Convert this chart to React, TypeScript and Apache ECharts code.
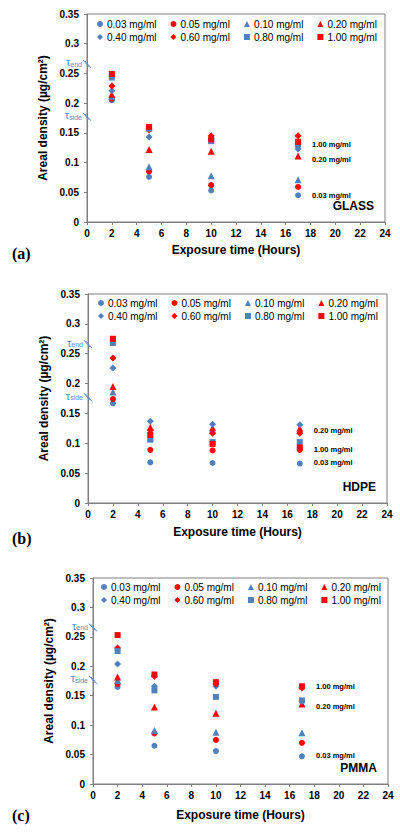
import React, { useEffect, useRef } from 'react';
import * as echarts from 'echarts';

const times = [2, 5, 10, 17];
const concentrations = ['0.03 mg/ml', '0.05 mg/ml', '0.10 mg/ml', '0.20 mg/ml', '0.40 mg/ml', '0.60 mg/ml', '0.80 mg/ml', '1.00 mg/ml'];

// rows follow concentrations, columns follow times
const glassValues = [
  [0.205, 0.076, 0.053, 0.045],
  [0.207, 0.085, 0.062, 0.059],
  [0.211, 0.093, 0.078, 0.071],
  [0.215, 0.122, 0.119, 0.111],
  [0.221, 0.143, 0.140, 0.123],
  [0.229, 0.155, 0.145, 0.145],
  [0.243, 0.157, 0.136, 0.130],
  [0.249, 0.160, 0.139, 0.135],
];
const hdpeValues = [
  [0.167, 0.068, 0.067, 0.066],
  [0.174, 0.089, 0.088, 0.089],
  [0.186, 0.110, 0.122, 0.121],
  [0.195, 0.127, 0.126, 0.125],
  [0.226, 0.137, 0.132, 0.131],
  [0.243, 0.122, 0.117, 0.117],
  [0.268, 0.106, 0.102, 0.102],
  [0.275, 0.114, 0.099, 0.093],
];
const pmmaValues = [
  [0.165, 0.065, 0.056, 0.047],
  [0.170, 0.086, 0.075, 0.070],
  [0.176, 0.091, 0.088, 0.087],
  [0.182, 0.131, 0.120, 0.136],
  [0.204, 0.166, 0.166, 0.140],
  [0.231, 0.183, 0.170, 0.163],
  [0.226, 0.159, 0.148, 0.142],
  [0.253, 0.186, 0.173, 0.166],
];

const materials = ['GLASS', 'HDPE', 'PMMA'];
const panelLetters = ['(a)', '(b)', '(c)'];
const tauLevels = [0.266, 0.177];
const tauLabels = ['end', 'side'];

const glassNotes = ['1.00 mg/ml', '0.20 mg/ml', '0.03 mg/ml'];
const glassNoteLevels = [0.130, 0.106, 0.044];
const hdpeNotes = ['0.20 mg/ml', '1.00 mg/ml', '0.03 mg/ml'];
const hdpeNoteLevels = [0.122, 0.090, 0.068];
const pmmaNotes = ['1.00 mg/ml', '0.20 mg/ml', '0.03 mg/ml'];
const pmmaNoteLevels = [0.165, 0.131, 0.048];
const noteTime = 17;

const BLUE = '#4f81bd';
const RED = '#ff0000';
const symbols = ['circle', 'circle', 'triangle', 'triangle', 'diamond', 'diamond', 'rect', 'rect'];
const symbolSizes = [6, 6, 7, 7, 7, 7, 6, 6];
const colors = [BLUE, RED, BLUE, RED, BLUE, RED, BLUE, RED];

const grids = [
  { left: 87, top: 14, width: 298, height: 208 },
  { left: 88, top: 294, width: 299, height: 209 },
  { left: 93, top: 578, width: 295, height: 206 },
];
const legendRows = [
  [18, 31],
  [297, 310],
  [581, 594],
];
const legendLeft = [97, 98, 101];
const xNameGaps = [22, 23, 25];
const letterTops = [255, 540, 817];

export default function App() {
  const ref = useRef<HTMLDivElement>(null);

  useEffect(() => {
    if (!ref.current) return;
    const chart = echarts.init(ref.current, undefined, { renderer: 'svg' });
    const panels = [glassValues, hdpeValues, pmmaValues];
    const notes = [glassNotes, hdpeNotes, pmmaNotes];
    const noteLevels = [glassNoteLevels, hdpeNoteLevels, pmmaNoteLevels];
    const font = 'Arial, "Liberation Sans", sans-serif';
    const tauColor = '#5b8ccc';

    const series: any[] = [];
    panels.forEach((vals, p) => {
      vals.forEach((row, c) => {
        series.push({
          type: 'scatter',
          name: concentrations[c],
          xAxisIndex: p,
          yAxisIndex: p,
          symbol: symbols[c],
          symbolSize: symbolSizes[c],
          itemStyle: { color: colors[c], opacity: 1 },
          data: times.map((t, i) => [t, row[i]]),
          z: 3 + c,
        });
      });
      series.push({
        type: 'custom',
        xAxisIndex: p,
        yAxisIndex: p,
        silent: true,
        data: tauLevels.map((v) => [0, v]),
        renderItem: (params: any, api: any) => {
          const pt = api.coord([api.value(0), api.value(1)]);
          const lab = tauLabels[params.dataIndex];
          return {
            type: 'group',
            children: [
              {
                type: 'text',
                x: pt[0] - 5,
                y: pt[1] - 2,
                style: {
                  text: `{t|τ}{s|${lab}}`,
                  align: 'right',
                  verticalAlign: 'middle',
                  rich: {
                    t: { fontSize: 11, fill: tauColor, fontFamily: font, verticalAlign: 'bottom', lineHeight: 12 },
                    s: { fontSize: 7, fill: tauColor, fontFamily: font, verticalAlign: 'bottom', lineHeight: 9 },
                  },
                },
              },
              {
                type: 'line',
                shape: { x1: pt[0] - 4, y1: pt[1] - 4, x2: pt[0] + 2, y2: pt[1] + 3 },
                style: { stroke: tauColor, lineWidth: 1 },
              },
              {
                type: 'line',
                shape: { x1: pt[0] - 2, y1: pt[1] - 3, x2: pt[0] + 4, y2: pt[1] + 4 },
                style: { stroke: tauColor, lineWidth: 1 },
              },
            ],
          };
        },
        z: 10,
      });
      series.push({
        type: 'custom',
        xAxisIndex: p,
        yAxisIndex: p,
        silent: true,
        data: noteLevels[p].map((v) => [noteTime, v]),
        renderItem: (params: any, api: any) => {
          const pt = api.coord([api.value(0), api.value(1)]);
          return {
            type: 'text',
            x: pt[0] + 14,
            y: pt[1],
            style: {
              text: notes[p][params.dataIndex],
              fontSize: 7.5,
              fontWeight: 'bold',
              fontFamily: font,
              fill: '#000',
              align: 'left',
              verticalAlign: 'middle',
            },
          };
        },
        z: 10,
      });
    });

    const legends: any[] = [];
    grids.forEach((g, p) => {
      [0, 1].forEach((r) => {
        legends.push({
          data: concentrations.slice(r * 4, r * 4 + 4),
          left: legendLeft[p],
          top: legendRows[p][r],
          orient: 'horizontal',
          itemWidth: 6,
          itemHeight: 6,
          itemGap: 14,
          padding: 0,
          selectedMode: false,
          textStyle: { fontSize: 10, fontFamily: font, color: '#000', lineHeight: 12, padding: [0, 0, 0, -1] },
        });
      });
    });

    const graphics: any[] = [];
    grids.forEach((g, p) => {
      graphics.push({
        type: 'text',
        right: 400 - (g.left + g.width - 11),
        top: g.top + g.height - 22,
        style: { text: materials[p], fontSize: 12, fontWeight: 'bold', fontFamily: font, fill: '#000' },
      });
      graphics.push({
        type: 'text',
        left: 12,
        top: letterTops[p] - 10,
        style: { text: panelLetters[p], fontSize: 16, fontWeight: 'bold', fontFamily: '"Liberation Serif", "Times New Roman", serif', fill: '#000' },
      });
    });

    chart.setOption({
      animation: false,
      backgroundColor: '#fff',
      grid: grids.map((g) => ({ ...g, show: true, borderColor: '#7f7f7f', borderWidth: 1, backgroundColor: 'transparent' })),
      xAxis: grids.map((g, p) => ({
        type: 'value',
        gridIndex: p,
        min: 0,
        max: 24,
        interval: 2,
        name: 'Exposure time (Hours)',
        nameLocation: 'middle',
        nameGap: xNameGaps[p],
        nameTextStyle: { fontSize: 12, fontWeight: 'bold', fontFamily: font, color: '#000' },
        axisLine: { show: true, lineStyle: { color: '#7f7f7f', width: 1 } },
        axisTick: { show: true, length: 3, lineStyle: { color: '#7f7f7f' } },
        axisLabel: { fontSize: 10, fontWeight: 'bold', fontFamily: font, color: '#000', margin: 6 },
        splitLine: { show: false },
      })),
      yAxis: grids.map((g, p) => ({
        type: 'value',
        gridIndex: p,
        min: 0,
        max: 0.35,
        interval: 0.05,
        name: 'Areal density (µg/cm²)',
        nameLocation: 'middle',
        nameGap: 33,
        nameTextStyle: { fontSize: 12, fontWeight: 'bold', fontFamily: font, color: '#000' },
        axisLine: { show: true, lineStyle: { color: '#7f7f7f', width: 1 } },
        axisTick: { show: true, length: 3, lineStyle: { color: '#7f7f7f' } },
        axisLabel: { fontSize: 10, fontWeight: 'bold', fontFamily: font, color: '#000', margin: 8 },
        splitLine: { show: false },
      })),
      legend: legends,
      series,
      graphic: graphics,
    });

    return () => chart.dispose();
  }, []);

  return <div ref={ref} style={{ position: 'absolute', left: 0, top: 0, width: 400, height: 837 }} />;
}
